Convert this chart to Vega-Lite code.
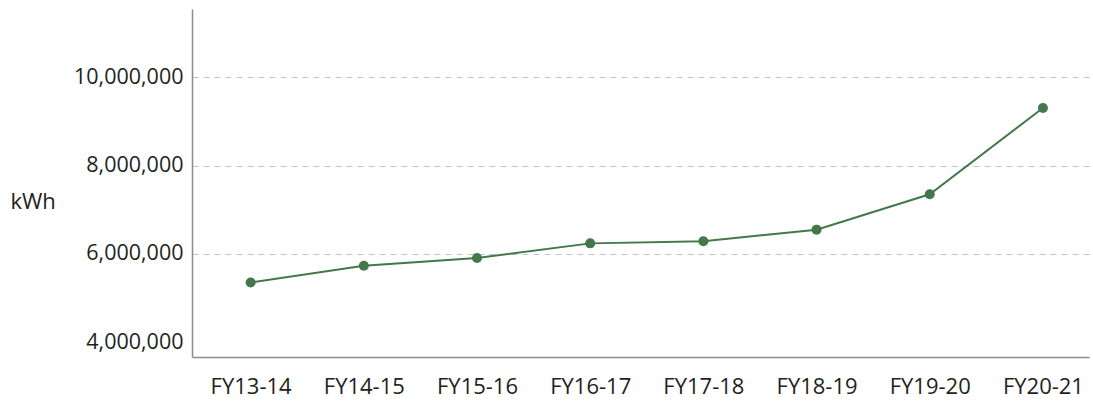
{
  "$schema": "https://vega.github.io/schema/vega-lite/v6.json",
  "autosize": {"type": "none"},
  "padding": {"left": 192, "top": 9, "right": 4, "bottom": 45},
  "width": 897,
  "height": 348,
  "config": {
    "view": {"stroke": null},
    "font": "Open Sans"
  },
  "data": {
    "values": [
      {"year": "FY13-14", "kwh": 5356000},
      {"year": "FY14-15", "kwh": 5736000},
      {"year": "FY15-16", "kwh": 5910000},
      {"year": "FY16-17", "kwh": 6240000},
      {"year": "FY17-18", "kwh": 6290000},
      {"year": "FY18-19", "kwh": 6550000},
      {"year": "FY19-20", "kwh": 7350000},
      {"year": "FY20-21", "kwh": 9300000}
    ]
  },
  "encoding": {
    "x": {
      "field": "year",
      "type": "ordinal",
      "sort": null,
      "scale": {"type": "point", "padding": 0.4625, "align": 0.56},
      "axis": {
        "title": null,
        "labelAngle": 0,
        "ticks": false,
        "domainColor": "#8c8c8c",
        "domainWidth": 1.5,
        "labelFont": "Open Sans",
        "labelFontSize": 22,
        "labelColor": "#231f20",
        "labelPadding": 19,
        "grid": false
      }
    },
    "y": {
      "field": "kwh",
      "type": "quantitative",
      "scale": {"domain": [3672000, 11537000], "nice": false, "zero": false},
      "axis": {
        "values": [4000000, 6000000, 8000000, 10000000],
        "format": ",d",
        "ticks": false,
        "domainColor": "#8c8c8c",
        "domainWidth": 1.5,
        "labelFont": "Open Sans",
        "labelFontSize": 21.5,
        "labelColor": "#231f20",
        "labelPadding": 9,
        "grid": true,
        "gridColor": "#c4c4c4",
        "gridOpacity": {"condition": {"test": "datum.value == 4000000", "value": 0}, "value": 1},
        "gridDash": [6, 5],
        "gridWidth": 1,
        "title": "kWh",
        "titleAngle": 0,
        "titleAlign": "left",
        "titleBaseline": "middle",
        "titleX": -182,
        "titleY": 192,
        "titleFont": "Open Sans",
        "titleFontSize": 22,
        "titleFontWeight": "normal",
        "titleColor": "#231f20"
      }
    }
  },
  "layer": [
    {"mark": {"type": "line", "color": "#42784a", "strokeWidth": 2}},
    {"mark": {"type": "point", "filled": true, "color": "#42784a", "size": 100, "opacity": 1}}
  ]
}
